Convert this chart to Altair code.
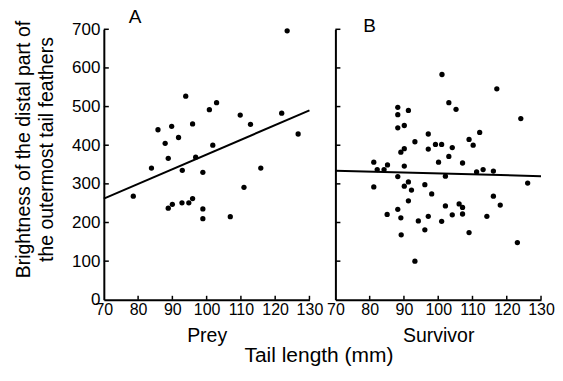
import altair as alt
import pandas as pd

# ---- data ----
prey_x = [78.6, 83.9, 85.8, 87.9, 88.8, 89.8, 88.8, 90.0, 91.8, 92.9, 92.8, 93.9, 94.8, 95.9,
          95.9, 96.8, 98.9, 98.9, 98.9, 100.8, 101.8, 102.9, 106.9, 109.8, 110.9, 112.8,
          115.8, 121.9, 123.5, 126.7]
prey_y = [268, 341, 440, 405, 366, 449, 237, 247, 420, 335, 251, 527, 251, 262,
          455, 369, 330, 235, 210, 492, 400, 510, 215, 478, 291, 454,
          341, 483, 696, 429]

surv_x = [81.2, 81.2, 82.2, 84.2, 85.2, 85.1, 88.2, 88.2, 88.2, 88.2, 88.2, 89.1, 89.2, 89.1,
          90.1, 90.1, 90.1, 90.1, 91.3, 91.3, 91.3, 92.2, 93.2, 93.2, 94.2, 96.1, 96.1,
          97.1, 97.1, 97.1, 98.1, 99.2, 100.1, 101.0, 101.1, 101.0, 102.1, 102.1, 103.1,
          103.1, 104.1, 104.1, 105.2, 106.1, 107.1, 107.1, 107.1, 109.0, 109.0, 110.2,
          111.2, 112.1, 113.1, 114.2, 116.1, 116.1, 117.1, 118.1, 123.1, 124.1, 126.1]
surv_y = [356, 292, 337, 337, 349, 221, 498, 479, 445, 319, 234, 212, 168, 382,
          451, 391, 346, 294, 490, 305, 256, 284, 409, 100, 204, 298, 181,
          429, 390, 216, 274, 402, 356, 402, 583, 203, 320, 243, 510,
          371, 394, 220, 493, 248, 239, 354, 222, 415, 174, 400,
          331, 433, 337, 216, 333, 268, 546, 245, 148, 469, 302]

line_x = [70, 130]
prey_line_y = [262, 490]
surv_line_y = [334, 320]

x_ticks = [70, 80, 90, 100, 110, 120, 130]
y_ticks = [0, 100, 200, 300, 400, 500, 600, 700]

panel_letters = ["A", "B"]
panel_names = ["Prey", "Survivor"]
y_title = ["Brightness of the distal part of", "the outermost tail feathers"]
x_title = "Tail length (mm)"

FONT = "Liberation Sans"
W, H = 206, 271

xs = alt.Scale(domain=[70, 130], nice=False, zero=False)
ys = alt.Scale(domain=[0, 700], nice=False)


def panel(px, py, ly, letter, name, show_y, dx):
    xaxis = alt.Axis(values=x_ticks, tickCount=7, title=name, titlePadding=9)
    if show_y:
        yaxis = alt.Axis(values=y_ticks, tickCount=8, title=y_title, titleFontSize=19.5,
                         titlePadding=15, titleLineHeight=23, titleY=120, labelPadding=4)
    else:
        yaxis = alt.Axis(values=y_ticks, labels=False, title=None)
    pts = alt.Chart(pd.DataFrame({"x": px, "y": py})).mark_circle(
        size=28, color="black", opacity=1).encode(
        x=alt.X("x:Q", scale=xs, axis=xaxis),
        y=alt.Y("y:Q", scale=ys, axis=yaxis))
    line = alt.Chart(pd.DataFrame({"x": line_x, "y": ly})).mark_line(
        color="black", strokeWidth=2).encode(x="x:Q", y="y:Q")
    xt = alt.Chart(pd.DataFrame({"x": x_ticks[1:]})).mark_rule(
        color="black", strokeWidth=1.5).encode(
        x="x:Q", y=alt.value(H), y2=alt.value(H - 4))
    yt = alt.Chart(pd.DataFrame({"y": y_ticks[1:]})).mark_rule(
        color="black", strokeWidth=1.5).encode(
        y="y:Q", x=alt.value(0), x2=alt.value(5))
    return alt.layer(pts, line, xt, yt).properties(
        width=W, height=H,
        title=alt.TitleParams(letter, anchor="start", frame="group", dx=dx, offset=-7,
                              font=FONT, fontSize=19, fontWeight="normal", color="black"))


chart = alt.hconcat(
    panel(prey_x, prey_y, prey_line_y, panel_letters[0], panel_names[0], True, 25),
    panel(surv_x, surv_y, surv_line_y, panel_letters[1], panel_names[1], False, 28),
    spacing=26, bounds="flush",
).properties(
    title=alt.TitleParams(x_title, orient="bottom", anchor="middle", font=FONT,
                          fontSize=21, fontWeight="normal", color="black", offset=0, dx=35),
    padding={"left": 5, "top": 0, "right": 0, "bottom": 0},
    background="white",
).configure_axis(
    ticks=False, grid=False, domainColor="black", domainWidth=2,
    labelFont=FONT, labelColor="black", labelPadding=2,
    labelFlush=False, labelOverlap=False, labelBound=False,
    titleFont=FONT, titleFontSize=19.5, titleFontWeight="normal", titleColor="black",
).configure_axisX(labelFontSize=16).configure_axisY(labelFontSize=17).configure_view(stroke=None)

chart.save("out.html", embed_options={"renderer": "svg", "actions": False})
